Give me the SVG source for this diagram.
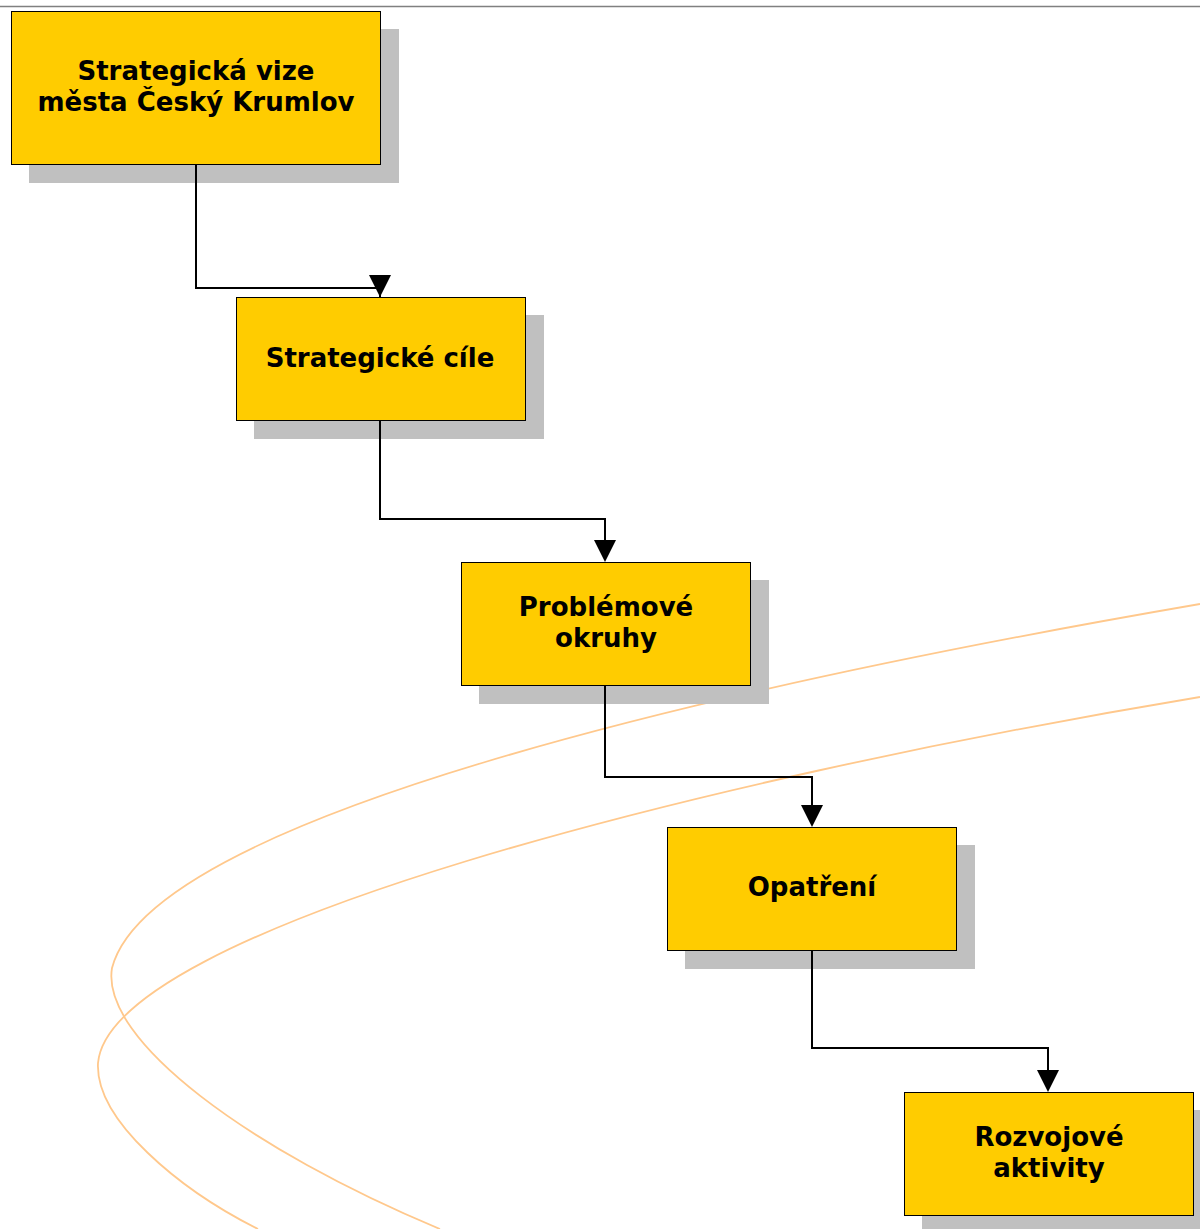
<svg xmlns="http://www.w3.org/2000/svg" width="1200" height="1229" viewBox="0 0 1200 1229">
<defs>
<style>
.box{fill:#FFCC00;stroke:#000;stroke-width:1}
.sh{fill:#C0C0C0}
.t{font-family:"DejaVu Sans",Verdana,sans-serif;font-weight:bold;font-size:26px;fill:#000;text-anchor:middle}
.c{fill:none;stroke:#000;stroke-width:2}
.o{fill:none;stroke:#FFC88C;stroke-width:1.8}
</style>
</defs>
<rect width="1200" height="1229" fill="#fff"/>
<line x1="0" y1="6.5" x2="1200" y2="6.5" stroke="#808080" stroke-width="1.5"/>
<g id="curves">
<path class="o" d="M1200,604 C700,690 150,820 112,968 C100,1040 250,1150 440,1229"/>
<path class="o" d="M1200,697 C700,780 110,930 98,1063 C95,1120 180,1190 258,1229"/>
</g>
<g id="n1"><rect class="sh" x="29" y="29" width="370" height="154"/><rect class="box" x="11.5" y="11.5" width="369" height="153"/><text class="t" x="196" y="80">Strategická vize</text><text class="t" x="196" y="111">města Český Krumlov</text></g>
<g id="n2"><rect class="sh" x="254" y="315" width="290" height="124"/><rect class="box" x="236.5" y="297.5" width="289" height="123"/><text class="t" x="380" y="367">Strategické cíle</text></g>
<g id="n3"><rect class="sh" x="479" y="580" width="290" height="124"/><rect class="box" x="461.5" y="562.5" width="289" height="123"/><text class="t" x="606" y="616">Problémové</text><text class="t" x="606" y="647">okruhy</text></g>
<g id="n4"><rect class="sh" x="685" y="845" width="290" height="124"/><rect class="box" x="667.5" y="827.5" width="289" height="123"/><text class="t" x="812" y="896">Opatření</text></g>
<g id="n5"><rect class="sh" x="922" y="1110" width="290" height="124"/><rect class="box" x="904.5" y="1092.5" width="289" height="123"/><text class="t" x="1049" y="1146">Rozvojové</text><text class="t" x="1049" y="1177">aktivity</text></g>
<g id="connectors">
<path class="c" d="M196,165 V288 H380 V297"/>
<path d="M369,275 L391,275 L380,297 Z"/>
<path class="c" d="M380,421 V519 H605 V545"/>
<path d="M594,540 L616,540 L605,562 Z"/>
<path class="c" d="M605,686 V777 H812 V810"/>
<path d="M801,805 L823,805 L812,827 Z"/>
<path class="c" d="M812,951 V1048 H1048 V1075"/>
<path d="M1037,1070 L1059,1070 L1048,1092 Z"/>
</g>
</svg>
